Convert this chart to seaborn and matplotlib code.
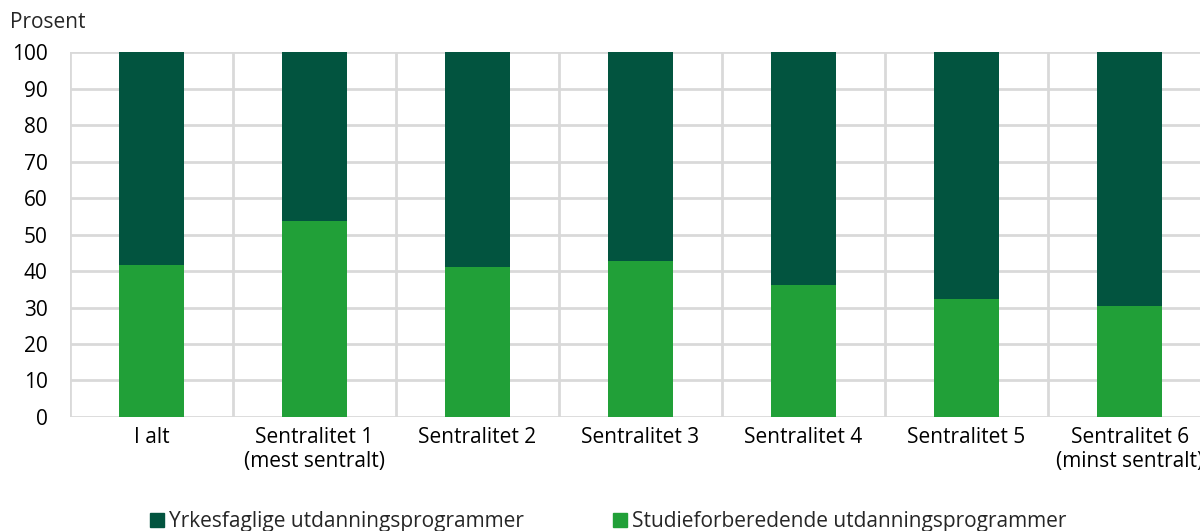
import matplotlib
matplotlib.use("Agg")
import matplotlib.pyplot as plt
import seaborn as sns
import pandas as pd
from matplotlib.patches import Patch

sns.set_theme(style="white")
plt.rcParams['font.family'] = ['Open Sans', 'DejaVu Sans']

categories = ["I alt", "Sentralitet 1\n(mest sentralt)", "Sentralitet 2", "Sentralitet 3",
              "Sentralitet 4", "Sentralitet 5", "Sentralitet 6\n(minst sentralt)"]
studie = [41.6, 53.7, 41.1, 42.7, 36.3, 32.3, 30.4]
yrkes = [58.4, 46.3, 58.9, 57.3, 63.7, 67.7, 69.6]

dark = "#02543f"
light = "#21a038"
grid_col = "#d9d9d9"
fs = 15

df = pd.DataFrame({"cat": categories, "studie": studie, "yrkes": yrkes})
df["total"] = df["studie"] + df["yrkes"]

fig = plt.figure(figsize=(12, 5.31), dpi=100)
ax = fig.add_axes([0.0583, 0.2147, 0.951, 0.6873])

sns.barplot(data=df, x="cat", y="total", color=dark, width=0.4, ax=ax,
            saturation=1, zorder=3, linewidth=0)
sns.barplot(data=df, x="cat", y="studie", color=light, width=0.4, ax=ax,
            saturation=1, zorder=3, linewidth=0)

ax.set_ylim(0, 100)
ax.set_xlim(-0.5, len(categories) - 0.5)
ax.set_yticks(range(0, 101, 10))
ax.set_xticks(range(len(categories)))
ax.set_xticks([i - 0.5 for i in range(len(categories) + 1)], minor=True)
ax.set_axisbelow(True)
ax.grid(axis="y", color=grid_col, linewidth=2)
ax.grid(axis="x", which="minor", color=grid_col, linewidth=2)
ax.grid(axis="x", which="major", visible=False)
for s in ax.spines.values():
    s.set_visible(False)
ax.tick_params(axis="y", length=0, pad=16, labelsize=fs, colors="#000000")
ax.tick_params(axis="x", which="both", length=0, pad=7, labelsize=fs, colors="#000000")
ax.set_xlabel("")
ax.set_ylabel("")

fig.text(0.008, 0.958, "Prosent", fontsize=fs, va="center", ha="left")

handles = [Patch(color=dark, label="Yrkesfaglige utdanningsprogrammer"),
           Patch(color=light, label="Studieforberedende utdanningsprogrammer")]
fig.legend(handles=handles, loc="center", bbox_to_anchor=(0.507, 0.018), ncol=2,
           frameon=False, fontsize=fs, handlelength=0.65, handleheight=0.65,
           handletextpad=0.25, columnspacing=4.3)

fig.savefig("out.png", dpi=100)
